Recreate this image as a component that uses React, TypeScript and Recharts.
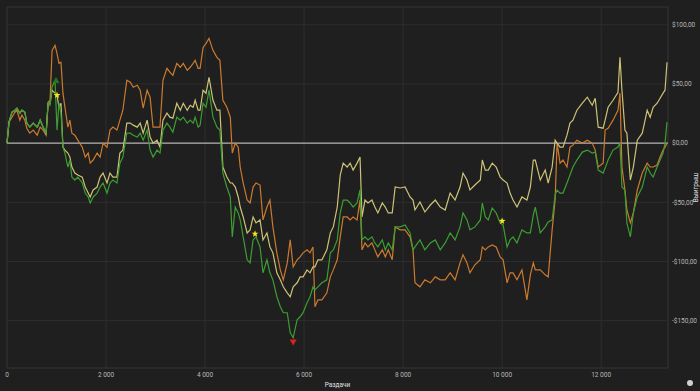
import React from 'react';
import {
  LineChart,
  Line,
  XAxis,
  YAxis,
  CartesianGrid,
  ReferenceLine,
  ReferenceDot,
  ReferenceArea,
} from 'recharts';

// Hands played (x axis)
const hands = [
  0, 40, 100, 160, 200, 260, 300, 360, 400, 460,
  530, 610, 670, 730, 790, 830, 870, 910, 970, 1010,
  1050, 1090, 1130, 1170, 1230, 1270, 1310, 1370, 1430, 1520,
  1580, 1640, 1680, 1740, 1820, 1880, 1940, 2020, 2080, 2140,
  2220, 2280, 2340, 2420, 2490, 2550, 2630, 2690, 2750, 2830,
  2890, 2950, 3030, 3090, 3150, 3230, 3290, 3350, 3430, 3500,
  3560, 3640, 3700, 3760, 3800, 3860, 3900, 3960, 4020, 4080,
  4160, 4240, 4300, 4360, 4440, 4510, 4550, 4610, 4670, 4710,
  4770, 4850, 4910, 4970, 5030, 5110, 5170, 5250, 5310, 5370,
  5450, 5520, 5580, 5660, 5720, 5780, 5860, 5920, 5980, 6060,
  6120, 6180, 6220, 6280, 6360, 6460, 6530, 6590, 6670, 6730,
  6790, 6870, 6930, 6990, 7070, 7130, 7170, 7230, 7290, 7370,
  7430, 7490, 7580, 7640, 7700, 7780, 7840, 7940, 8040, 8140,
  8200, 8240, 8340, 8440, 8550, 8650, 8750, 8850, 8950, 9050,
  9150, 9210, 9290, 9350, 9450, 9560, 9600, 9660, 9720, 9800,
  9880, 9960, 10020, 10100, 10160, 10220, 10300, 10400, 10500, 10570,
  10630, 10670, 10770, 10870, 10930, 11010, 11070, 11110, 11170, 11230,
  11310, 11370, 11430, 11510, 11620, 11720, 11820, 11880, 11940, 12040,
  12080, 12140, 12240, 12340, 12380, 12420, 12480, 12520, 12590, 12650,
  12730, 12830, 12930, 12990, 13050, 13130, 13190, 13250, 13290, 13330,
];

// Yellow series (winnings, $)
const yellowWinnings = [
  0, 17.7, 26.1, 27.8, 29.5, 25.3, 27.8, 26.1, 16.9, 13.5,
  16.9, 13.5, 19.4, 13.5, 8.4, 33.7, 33.7, 44.7, 42.2, 40.5,
  30.3, 33.7, -3.4, -5.9, -8.4, -11.8, -20.2, -25.3, -27.0, -28.7,
  -37.1, -42.2, -45.5, -39.6, -37.1, -28.7, -25.3, -33.7, -25.3, -28.7,
  -28.7, -8.4, -5.9, 16.9, 16.9, 15.2, 13.5, 16.9, 8.4, 19.4,
  5.1, 0, 2.5, -3.4, 19.4, 25.3, 21.9, 21.1, 33.7, 27.8,
  33.7, 27.8, 32.0, 30.3, 36.2, 27.8, 27.8, 44.7, 42.2, 55.6,
  36.2, 27.8, 27.8, -20.2, -28.7, -33.7, -33.7, -37.1, -45.5, -54.0,
  -62.4, -75.9, -73.3, -62.4, -67.4, -64.9, -81.8, -75.9, -87.7, -92.7,
  -109.6, -115.5, -121.4, -126.5, -129.8, -121.4, -118.0, -113.0, -113.0, -107.1,
  -109.6, -104.5, -104.5, -98.6, -98.6, -90.2, -75.9, -70.8, -54.0, -27.0,
  -16.9, -20.2, -16.9, -22.8, -16.9, -11.8, -62.4, -48.1, -50.6, -48.1,
  -54.0, -59.0, -50.6, -54.0, -59.0, -59.0, -37.1, -37.9, -37.1, -45.5,
  -48.1, -56.5, -49.7, -58.2, -52.3, -48.1, -54.0, -56.5, -42.2, -48.1,
  -37.1, -25.3, -31.2, -39.6, -35.4, -31.2, -14.3, -22.8, -22.8, -16.9,
  -20.2, -28.7, -31.2, -33.7, -42.2, -48.1, -54.0, -45.5, -48.1, -37.1,
  -14.3, -14.3, -31.2, -22.8, -33.7, -20.2, 2.5, 0, -3.4, -3.4,
  6.7, 16.9, 19.4, 27.8, 33.7, 38.8, 32.0, 37.9, 13.5, 12.6,
  19.4, 30.3, 36.2, 43.0, 72.5, 44.7, 11.0, 8.4, -31.2, -20.2,
  2.5, 8.4, 27.8, 21.9, 30.3, 33.7, 37.9, 42.2, 44.7, 68.3,
];

// Orange series (winnings, $)
const orangeWinnings = [
  0, 17.7, 21.9, 26.1, 27.8, 19.4, 23.6, 19.4, 12.6, 8.4,
  11.0, 6.7, 13.5, 11.0, 6.7, 34.6, 36.2, 78.4, 82.6, 75.9,
  67.4, 68.3, 42.2, 30.3, 13.5, 19.4, 8.4, 6.7, 2.5, -3.4,
  -11.8, -8.4, -16.9, -14.3, -8.4, -11.8, 0, -3.4, 11.0, 13.5,
  11.0, 19.4, 27.8, 53.1, 51.4, 47.2, 48.9, 44.7, 29.5, 44.7,
  38.8, 13.5, 13.5, 13.5, 53.1, 63.2, 59.9, 57.3, 67.4, 64.1,
  67.4, 61.5, 64.1, 67.4, 70.0, 63.2, 63.2, 80.9, 84.3, 88.5,
  78.4, 72.5, 70.0, 36.2, 30.3, 21.9, -8.4, 0, -3.4, -20.2,
  -33.7, -48.1, -50.6, -37.1, -33.7, -35.4, -64.9, -54.0, -48.1, -70.8,
  -92.7, -107.1, -115.5, -101.2, -81.8, -104.5, -98.6, -96.1, -92.7, -90.2,
  -92.7, -87.7, -138.3, -132.4, -132.4, -126.5, -113.0, -107.1, -98.6, -79.2,
  -62.4, -62.4, -64.9, -62.4, -64.9, -48.1, -90.2, -84.3, -87.7, -84.3,
  -90.2, -96.1, -90.2, -96.1, -90.2, -98.6, -70.8, -73.3, -73.3, -79.2,
  -90.2, -118.0, -121.4, -115.5, -118.0, -113.0, -115.5, -115.5, -109.6, -115.5,
  -101.2, -94.4, -101.2, -109.6, -102.8, -98.6, -87.7, -90.2, -87.7, -86.0,
  -87.7, -96.1, -98.6, -118.0, -109.6, -109.6, -115.5, -107.1, -132.4, -111.3,
  -101.2, -107.1, -107.1, -111.3, -113.0, -73.3, -48.1, 0, -16.9, -14.3,
  -20.2, -3.4, -1.7, 2.5, 0, 2.5, 0, -5.9, -20.2, -16.9,
  11.0, 12.6, 19.4, 27.8, 42.2, -20.2, -39.6, -56.5, -67.4, -59.0,
  -39.6, -25.3, -16.9, -20.2, -20.2, -18.5, -11.8, -5.9, -3.4, 0,
];

// Green series (winnings, $)
const greenWinnings = [
  0, 17.7, 26.1, 27.8, 29.5, 25.3, 27.8, 26.1, 16.9, 13.5,
  16.9, 13.5, 19.4, 13.5, 8.4, 33.7, 32.0, 47.2, 53.1, 11.0,
  33.7, 25.3, -3.4, -8.4, -20.2, -14.3, -28.7, -31.2, -28.7, -33.7,
  -42.2, -45.5, -50.6, -45.5, -42.2, -37.1, -33.7, -42.2, -33.7, -31.2,
  -33.7, -16.9, -11.8, 8.4, 8.4, 6.7, 5.1, 8.4, 2.5, 11.0,
  -5.9, -11.8, -5.9, -8.4, 11.0, 16.9, 13.5, 9.3, 21.9, 19.4,
  21.9, 16.9, 19.4, 16.9, 21.9, 13.5, 15.2, 33.7, 30.3, 44.7,
  21.9, 13.5, 11.0, -25.3, -37.1, -45.5, -79.2, -54.0, -59.0, -64.9,
  -79.2, -98.6, -101.2, -81.8, -79.2, -87.7, -109.6, -98.6, -109.6, -115.5,
  -129.8, -138.3, -143.3, -143.3, -160.2, -164.4, -149.2, -146.7, -143.3, -134.9,
  -129.8, -121.4, -123.9, -121.4, -118.0, -115.5, -92.7, -90.2, -81.8, -59.0,
  -48.1, -48.1, -50.6, -54.0, -50.6, -39.6, -81.8, -79.2, -81.8, -79.2,
  -84.3, -87.7, -81.8, -90.2, -84.3, -90.2, -70.8, -70.8, -69.1, -75.9,
  -90.2, -87.7, -81.8, -90.2, -84.3, -81.8, -90.2, -84.3, -75.9, -81.8,
  -70.8, -59.0, -64.9, -73.3, -70.8, -64.9, -50.6, -62.4, -64.9, -54.8,
  -59.0, -67.4, -69.1, -87.7, -81.8, -79.2, -84.3, -73.3, -75.9, -75.9,
  -60.7, -54.0, -75.9, -70.8, -66.6, -64.9, -43.8, -39.6, -42.2, -42.2,
  -33.7, -27.0, -20.2, -14.3, -7.6, -5.9, -8.4, -7.6, -22.8, -25.3,
  -21.1, -14.3, -5.9, -3.4, 0, -37.1, -39.6, -67.4, -79.2, -59.0,
  -45.5, -37.1, -20.2, -25.3, -28.7, -20.2, -14.3, -8.4, 0, 17.7,
];

const xTicks = [0, 2000, 4000, 6000, 8000, 10000, 12000];
const yTicks = [-150, -100, -50, 0, 50, 100];

const starMarkers = [
  { hand: 1010, value: 40.5 },
  { hand: 5010, value: -76.7 },
  { hand: 10000, value: -65.8 },
];
const maxMarker = { hand: 990, value: 53 };
const minMarker = { hand: 5780, value: -168 };

const data = hands.map((h, i) => ({
  hand: h,
  yellow: yellowWinnings[i],
  orange: orangeWinnings[i],
  green: greenWinnings[i],
}));

const fmtMoney = (v: number) =>
  (v < 0 ? '-' : '') + '$' + Math.abs(v).toFixed(2).replace('.', ',');
const fmtHands = (v: number) =>
  String(v).replace(/\B(?=(\d{3})+(?!\d))/g, ' ');

const StarShape = (p: any) => {
  const { cx, cy } = p;
  if (cx == null || cy == null) return null;
  const pts: string[] = [];
  for (let k = 0; k < 10; k++) {
    const r = k % 2 === 0 ? 3.6 : 1.5;
    const a = -Math.PI / 2 + (k * Math.PI) / 5;
    pts.push(`${cx + r * Math.cos(a)},${cy + r * Math.sin(a)}`);
  }
  return <polygon points={pts.join(' ')} fill="#f3e51f" />;
};

const TriUp = (p: any) => {
  const { cx, cy } = p;
  if (cx == null || cy == null) return null;
  return (
    <polygon
      points={`${cx},${cy - 3.5} ${cx + 3.5},${cy + 2.5} ${cx - 3.5},${cy + 2.5}`}
      fill="#1f7a1a"
    />
  );
};

const TriDown = (p: any) => {
  const { cx, cy } = p;
  if (cx == null || cy == null) return null;
  return (
    <polygon
      points={`${cx - 3.5},${cy - 2.5} ${cx + 3.5},${cy - 2.5} ${cx},${cy + 3.5}`}
      fill="#e0201a"
    />
  );
};

const tickStyle = { fill: '#b8b8b8', fontSize: 6.5, fontFamily: 'Roboto, sans-serif' };

export default function App() {
  return (
    <div
      style={{
        position: 'absolute',
        left: 0,
        top: 0,
        width: 700,
        height: 391,
        background: '#1f1f1f',
        overflow: 'hidden',
      }}
    >
      <LineChart
        width={700}
        height={391}
        data={data}
        margin={{ top: 7, right: 0, bottom: 0, left: 7 }}
      >
        <CartesianGrid stroke="#2e2e2e" strokeWidth={1} />
        <ReferenceArea
          x1={0}
          x2={13350}
          y1={-190}
          y2={115}
          fill="none"
          stroke="#2e2e2e"
          strokeWidth={1}
        />
        <XAxis
          dataKey="hand"
          type="number"
          domain={[0, 13350]}
          ticks={xTicks}
          tickFormatter={fmtHands}
          height={23}
          axisLine={false}
          tickLine={false}
          tickSize={0}
          tickMargin={4}
          tick={tickStyle}
          label={{
            value: 'Раздачи',
            position: 'insideBottom',
            offset: 4,
            fill: '#e0e0e0',
            fontSize: 6.5,
            fontFamily: 'Roboto, sans-serif',
          }}
        />
        <YAxis
          orientation="right"
          type="number"
          domain={[-190, 115]}
          ticks={yTicks}
          tickFormatter={fmtMoney}
          width={32}
          axisLine={false}
          tickLine={false}
          tickSize={0}
          tickMargin={4}
          tick={{ ...tickStyle, textAnchor: 'start' }}
          label={(props: any) => {
            const vb = props.viewBox || { x: 668, y: 7, width: 32, height: 361 };
            const x = vb.x + vb.width - 4;
            const y = vb.y + vb.height / 2;
            return (
              <text
                x={x}
                y={y}
                transform={`rotate(-90 ${x} ${y})`}
                textAnchor="middle"
                dominantBaseline="central"
                fill="#e0e0e0"
                fontSize={6.5}
                fontFamily="Roboto, sans-serif"
              >
                Выигрыш
              </text>
            );
          }}
        />
        <ReferenceLine y={0} stroke="#d4d4d4" strokeWidth={1} />
        <Line
          type="linear"
          dataKey="orange"
          stroke="#cc7a2e"
          strokeWidth={1.2}
          dot={false}
          isAnimationActive={false}
        />
        <Line
          type="linear"
          dataKey="yellow"
          stroke="#cdc376"
          strokeWidth={1.2}
          dot={false}
          isAnimationActive={false}
        />
        <Line
          type="linear"
          dataKey="green"
          stroke="#3c9e32"
          strokeWidth={1.2}
          dot={false}
          isAnimationActive={false}
        />
        <ReferenceDot x={maxMarker.hand} y={maxMarker.value} r={3} shape={TriUp} />
        <ReferenceDot x={minMarker.hand} y={minMarker.value} r={3} shape={TriDown} />
        {starMarkers.map((s, i) => (
          <ReferenceDot key={i} x={s.hand} y={s.value} r={3} shape={StarShape} />
        ))}
      </LineChart>
      <div
        style={{
          position: 'absolute',
          left: 687,
          top: 380,
          width: 6,
          height: 6,
          borderRadius: 3,
          background: '#d0d0d0',
        }}
      />
    </div>
  );
}
